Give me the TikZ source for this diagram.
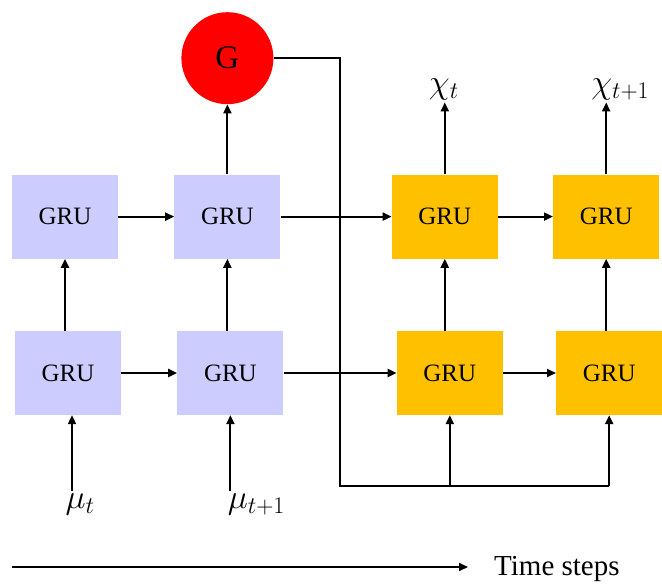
\RequirePackage{fix-cm}
\documentclass[tikz,border=0pt]{standalone}
\usepackage{fontspec}
\setmainfont{Liberation Serif}
\usepackage{xcolor}
\usepackage{tikz}
\usetikzlibrary{arrows.meta,positioning,calc}
\definecolor{encfill}{RGB}{204,204,255}
\definecolor{decfill}{RGB}{255,192,0}
\definecolor{gfill}{RGB}{255,0,0}
\tikzset{
  gru/.style={rectangle, minimum width=106pt, minimum height=84pt, inner sep=0pt,
    font=\fontsize{25}{28}\selectfont},
  enc/.style={gru, fill=encfill},
  dec/.style={gru, fill=decfill},
  gnode/.style={circle, fill=gfill, minimum size=92pt, inner sep=0pt,
    font=\fontsize{33}{35}\selectfont},
  lbl/.style={inner sep=2pt, font=\fontsize{34}{36}\selectfont},
  arr/.style={-{Triangle[length=9pt,width=8pt]}, line width=2.1pt},
  wire/.style={line width=2.1pt}
}

\begin{document}
\begin{tikzpicture}[x=1pt,y=1pt]
        \useasboundingbox (0,0) rectangle (662,-586);
        % encoder
        \node[enc] (e1b) at (68,-373) {GRU};
        \node[enc,right=56pt of e1b] (e2b) {GRU};
        \node[enc,above=72pt of e1b,xshift=-3pt] (e1t) {GRU};
        \node[enc,right=56pt of e1t] (e2t) {GRU};
        \node[gnode,above=70pt of e2t] (g) {G};
        % decoder
        \node[dec,right=113pt of e2b] (d1b) {GRU};
        \node[dec,right=53pt of d1b] (d2b) {GRU};
        \node[dec,above=72pt of d1b,xshift=-5pt] (d1t) {GRU};
        \node[dec,right=55pt of d1t] (d2t) {GRU};
        % inputs and outputs
        \node[lbl,below=76pt of e1b,xshift=12pt] (mt) {$\mu_t$};
        \node[lbl,below=76pt of e2b,xshift=26pt] (mt1) {$\mu_{t+1}$};
        \node[lbl,above=72pt of d1t,xshift=-1pt] (xt) {$\chi_t$};
        \node[lbl,above=72pt of d2t,xshift=14pt] (xt1) {$\chi_{t+1}$};
        \coordinate (bus) at (340,-486);
        \coordinate (ts0) at (12,-567);
        \coordinate (ts1) at (468,-567);
        \node[right=24pt of ts1,anchor=west,font=\fontsize{29}{32}\selectfont,inner sep=2pt,yshift=-2pt] (ts) {Time steps};
        \draw[arr](e1b)--(e2b);\draw[arr](e2b)--(d1b);\draw[arr](d1b)--(d2b);
        \draw[arr](e1t)--(e2t);\draw[arr](e2t)--(d1t);\draw[arr](d1t)--(d2t);
        \draw[arr](e1b.north -| e1t)--(e1t);\draw[arr](e2b.north -| e2t)--(e2t);
        \draw[arr](d1b.north -| d1t)--(d1t);\draw[arr](d2b.north -| d2t)--(d2t);
        \draw[arr](e2t)--(g);
        \draw[arr](d1t.north)--(d1t.north |- xt.south);\draw[arr](d2t.north)--(d2t.north |- xt1.south);
        \draw[arr]([xshift=4pt]e1b.south |- mt.north)--([xshift=4pt]e1b.south);
        \draw[arr](e2b.south |- mt1.north)--(e2b.south);
        \draw[wire](g.east)-|(bus)--(bus -| d2b);
        \draw[arr](bus -| d1b)--(d1b);\draw[arr](bus -| d2b)--(d2b);
        \draw[arr](ts0)--(ts1);
      \end{tikzpicture}
\end{document}
